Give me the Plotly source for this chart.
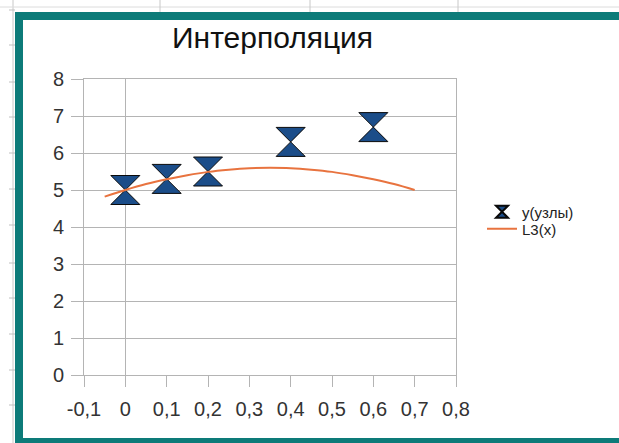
import plotly.graph_objects as go

W, H = 619, 443
# plot area edges in pixels
L, R, T, B = 84, 456, 79, 375

# interpolation nodes
node_x = [0.0, 0.1, 0.2, 0.4, 0.6]
node_y = [5.0, 5.3, 5.5, 6.3, 6.7]

# L3(x) curve samples
curve_x = [-0.05, 0.0, 0.05, 0.1, 0.15, 0.2, 0.25, 0.3, 0.35, 0.4, 0.45, 0.5, 0.55, 0.6, 0.65, 0.7]
curve_y = [4.82, 5.0, 5.16, 5.29, 5.40, 5.49, 5.55, 5.59, 5.60, 5.59, 5.55, 5.49, 5.40, 5.29, 5.16, 5.0]

x_tickvals = [-0.1, 0.0, 0.1, 0.2, 0.3, 0.4, 0.5, 0.6, 0.7, 0.8]
x_ticktext = ["-0,1", "0", "0,1", "0,2", "0,3", "0,4", "0,5", "0,6", "0,7", "0,8"]
y_tickvals = [0, 1, 2, 3, 4, 5, 6, 7, 8]
y_ticktext = ["0", "1", "2", "3", "4", "5", "6", "7", "8"]

FONT = "Liberation Sans, Arial, sans-serif"
GRID = "#b4b4b4"
TEAL = "#0d7b79"


def px(x):
    return (x - L) / (R - L)


def py(y):
    return (B - y) / (B - T)


fig = go.Figure()
fig.add_trace(go.Scatter(
    x=node_x, y=node_y, mode="markers", name="y(узлы)",
    marker=dict(symbol="hourglass", size=29, color="#1b4d89",
                line=dict(color="#0a0a0a", width=1)),
    legend="legend", showlegend=True,
))
fig.add_trace(go.Scatter(
    x=curve_x, y=curve_y, mode="lines", name="L3(x)",
    line=dict(color="#e8733f", width=2, shape="spline"),
    legend="legend2", showlegend=True,
))

shapes = []
# spreadsheet cell lines around the chart frame
shapes.append(dict(type="line", xref="paper", yref="paper",
                   x0=px(13), x1=px(13), y0=py(0), y1=py(H),
                   line=dict(color="#c8c8c8", width=1)))
shapes.append(dict(type="line", xref="paper", yref="paper",
                   x0=px(0), x1=px(W), y0=py(7), y1=py(7),
                   line=dict(color="#dcdcdc", width=1)))
for cx in [160, 310, 458]:
    shapes.append(dict(type="line", xref="paper", yref="paper",
                       x0=px(cx), x1=px(cx), y0=py(0), y1=py(12),
                       line=dict(color="#c8c8c8", width=1)))
for ry in [10, 45, 82, 117, 153, 189, 225, 263, 298, 334, 370, 405]:
    shapes.append(dict(type="line", xref="paper", yref="paper",
                       x0=px(9), x1=px(15), y0=py(ry), y1=py(ry),
                       line=dict(color="#c0c0c0", width=1)))
# teal chart frame
for x0, y0, x1, y1 in [(15, 12, 23, H), (15, 12, W, 20), (15, 438, W, H)]:
    shapes.append(dict(type="rect", xref="paper", yref="paper",
                       x0=px(x0), x1=px(x1), y0=py(y0), y1=py(y1),
                       fillcolor=TEAL, line=dict(width=0), layer="above"))

fig.update_layout(
    width=W, height=H,
    margin=dict(l=L, r=W - R, t=T, b=H - B),
    paper_bgcolor="white", plot_bgcolor="white",
    font=dict(family=FONT, color="#222222"),
    showlegend=True,
    shapes=shapes,
    annotations=[dict(text="Интерполяция", xref="paper", yref="paper",
                      x=px(272), y=py(38), xanchor="center", yanchor="middle",
                      showarrow=False, font=dict(size=30, color="#111111"))],
    xaxis=dict(range=[-0.1, 0.8], tickvals=x_tickvals, ticktext=x_ticktext,
               showgrid=False, zeroline=True, zerolinecolor=GRID, zerolinewidth=1,
               showline=True, mirror=True, linecolor=GRID, linewidth=1,
               ticks="outside", ticklen=11, tickcolor=GRID,
               ticklabelstandoff=5,
               tickfont=dict(size=20, color="#333333")),
    yaxis=dict(range=[0, 8], tickvals=y_tickvals, ticktext=y_ticktext,
               showgrid=True, gridcolor=GRID, gridwidth=1, zeroline=False,
               showline=True, mirror=True, linecolor=GRID, linewidth=1,
               ticks="outside", ticklen=12, tickcolor=GRID,
               ticklabelstandoff=3,
               tickfont=dict(size=20, color="#333333")),
    legend=dict(x=px(482), y=py(212), xanchor="left", yanchor="middle",
                font=dict(size=15, color="#222222"), bgcolor="rgba(0,0,0,0)",
                itemsizing="constant", visible=True),
    legend2=dict(x=px(482), y=py(229), xanchor="left", yanchor="middle",
                 font=dict(size=15, color="#222222"), bgcolor="rgba(0,0,0,0)",
                 visible=True),
)

fig.write_html("out.html")
